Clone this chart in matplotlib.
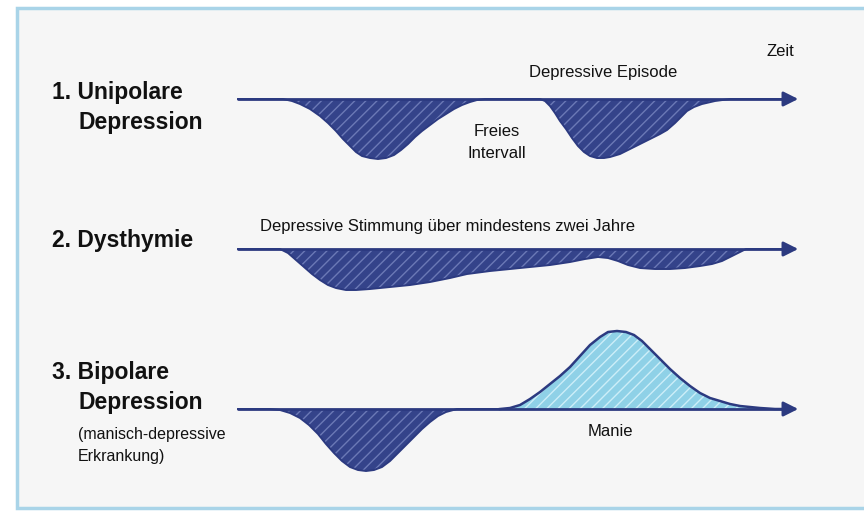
import matplotlib

matplotlib.use("Agg")
import matplotlib.pyplot as plt
from matplotlib.patches import Rectangle

plt.rcParams["font.family"] = ["Liberation Sans", "DejaVu Sans"]
plt.rcParams["hatch.linewidth"] = 1.0

# --- data (x in px, depth/height in px below/above the time axis)
uni_x = [238, 283, 292, 300, 310, 320, 328, 336, 343, 350, 356, 362, 370, 378,
         386, 394, 401, 408, 415, 422, 430, 438, 446, 454, 462, 470, 477, 485,
         540, 545, 550, 555, 560, 566, 572, 578, 584, 590, 597, 604, 610, 620,
         630, 640, 650, 660, 667, 675, 681, 687, 694, 702, 715, 730, 790]
uni_depth = [0, 0, 2, 5, 10, 17, 24, 32, 40, 47, 53, 57, 59, 60,
             59, 56, 51, 45, 38, 32, 26, 20, 15, 10, 6, 3, 1, 0,
             0, 2, 7, 14, 22, 30, 39, 47, 53, 57, 59, 59, 58, 55,
             50, 45, 40, 35, 31, 24, 18, 12, 8, 5, 2, 0, 0]

dys_x = [238, 280, 288, 296, 304, 312, 320, 328, 336, 346, 356, 370, 390, 410,
         430, 450, 467, 490, 510, 530, 550, 570, 585, 598, 608, 618, 628, 640,
         655, 670, 685, 700, 712, 722, 732, 740, 746, 790]
dys_depth = [0, 0, 4, 11, 18, 25, 31, 36, 39, 41, 41, 40, 38, 36,
             33, 29, 25, 22, 20, 18, 16, 13, 10, 8, 9, 12, 16, 19,
             20, 20, 19, 17, 15, 12, 7, 3, 0, 0]

bip_dep_x = [238, 270, 280, 290, 300, 309, 318, 326, 334, 342, 350, 358, 366,
             374, 382, 390, 398, 406, 414, 422, 430, 438, 446, 457, 500]
bip_dep_depth = [0, 0, 1, 4, 9, 16, 25, 35, 44, 52, 58, 61, 62,
                 61, 58, 52, 44, 36, 28, 20, 13, 7, 3, 0, 0]

manie_x = [500, 510, 520, 530, 540, 550, 560, 570, 580, 590, 600, 608, 617,
           626, 634, 642, 650, 660, 670, 680, 690, 700, 710, 720, 730, 740,
           750, 760, 775, 790]
manie_height = [0, 1, 4, 10, 17, 25, 33, 42, 53, 64, 72, 77, 78,
                77, 74, 68, 60, 50, 40, 31, 23, 16, 11, 8, 5, 3,
                2, 1, 0, 0]

row_titles = [["1. Unipolare", "Depression"], ["2. Dysthymie"],
              ["3. Bipolare", "Depression"]]

NAVY = "#34438a"
NAVY_LINE = "#2c3a80"
HATCH_DARK = "#6b79b6"
MANIE_FILL = "#8fd1e7"
MANIE_HATCH = "#cdeef8"


def draw_axis(ax, y0):
    ax.plot([238, 790], [y0, y0], color=NAVY_LINE, lw=2.0, solid_capstyle="round", zorder=5)
    ax.annotate("", xy=(801, y0), xytext=(784, y0),
                arrowprops=dict(arrowstyle="-|>", color=NAVY_LINE, lw=2.0,
                                mutation_scale=22), zorder=6)


def draw_dip(ax, x, depth, y0):
    low = [y0 + d for d in depth]
    ax.fill_between(x, y0, low, facecolor=NAVY, edgecolor="none", zorder=2)
    ax.fill_between(x, y0, low, facecolor="none", edgecolor=HATCH_DARK,
                    hatch="///", linewidth=0, zorder=3)
    ax.plot(x, low, color=NAVY_LINE, lw=1.4, solid_joinstyle="round", zorder=4)


def draw_hump(ax, x, height, y0):
    up = [y0 - h for h in height]
    ax.fill_between(x, up, y0, facecolor=MANIE_FILL, edgecolor="none", zorder=2)
    ax.fill_between(x, up, y0, facecolor="none", edgecolor=MANIE_HATCH,
                    hatch="///", linewidth=0, zorder=3)
    ax.plot(x, up, color=NAVY_LINE, lw=1.8, solid_joinstyle="round", zorder=4)


fig = plt.figure(figsize=(8.64, 5.2), dpi=100)
fig.patch.set_facecolor("white")
ax = fig.add_axes([0, 0, 1, 1])
ax.set_xlim(0, 864)
ax.set_ylim(520, 0)
ax.axis("off")

# paper with light blue frame
ax.add_patch(Rectangle((17, 8), 860, 500, facecolor="#f6f6f6",
                       edgecolor="#a9d4e8", lw=2.5, zorder=0))

baselines = [99, 249, 409]

# 1. unipolar
draw_dip(ax, uni_x, uni_depth, baselines[0])
draw_axis(ax, baselines[0])
# 2. dysthymia
draw_dip(ax, dys_x, dys_depth, baselines[1])
draw_axis(ax, baselines[1])
# 3. bipolar
draw_dip(ax, bip_dep_x, bip_dep_depth, baselines[2])
draw_hump(ax, manie_x, manie_height, baselines[2])
draw_axis(ax, baselines[2])

# row titles
title_kw = dict(fontsize=16.5, fontweight="bold", va="center", ha="left", color="#111111")
ax.text(52, 92, row_titles[0][0], **title_kw)
ax.text(78, 122, row_titles[0][1], **title_kw)
ax.text(52, 240, row_titles[1][0], **title_kw)
ax.text(52, 372, row_titles[2][0], **title_kw)
ax.text(78, 402, row_titles[2][1], **title_kw)

note_kw = dict(fontsize=12, va="center", color="#111111")
ax.text(78, 435, "(manisch-depressive", ha="left", fontsize=11.5, va="center", color="#111111")
ax.text(78, 457, "Erkrankung)", ha="left", fontsize=11.5, va="center", color="#111111")

ax.text(780, 52, "Zeit", ha="center", **note_kw)
ax.text(603, 72, "Depressive Episode", ha="center", **note_kw)
ax.text(497, 132, "Freies", ha="center", **note_kw)
ax.text(497, 153, "Intervall", ha="center", **note_kw)
ax.text(260, 227, "Depressive Stimmung über mindestens zwei Jahre", ha="left", **note_kw)
ax.text(610, 432, "Manie", ha="center", **note_kw)

fig.savefig("out.png", dpi=100)
